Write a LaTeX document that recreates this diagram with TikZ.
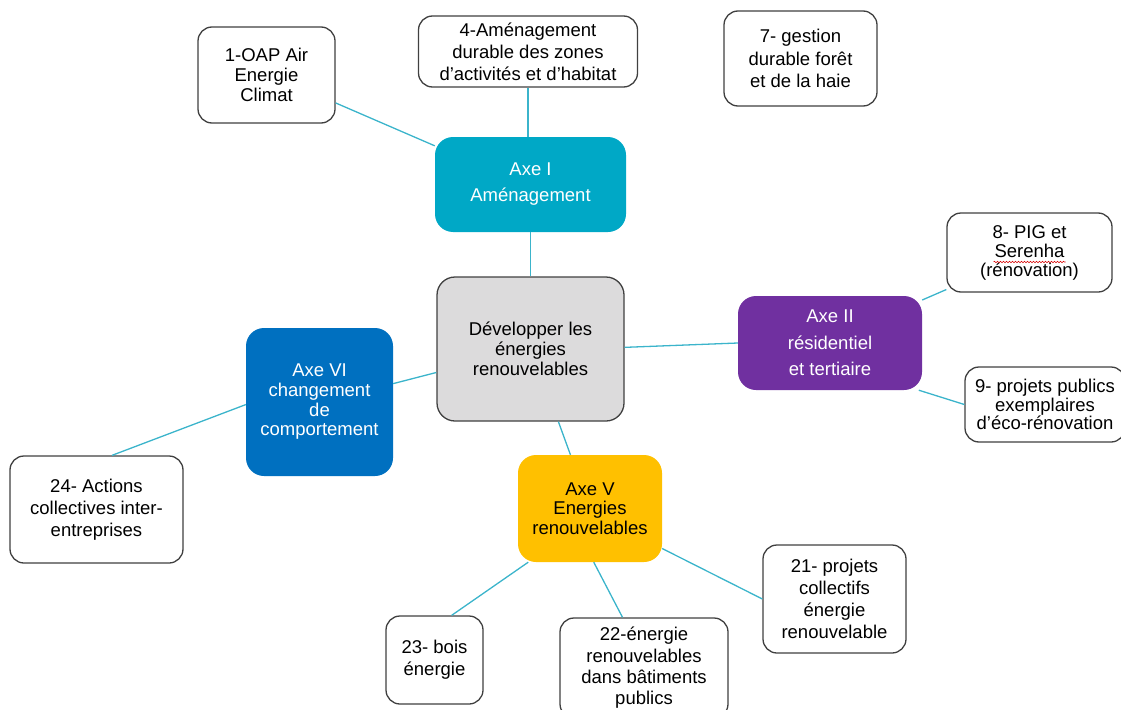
\documentclass[tikz,border=0pt]{standalone}
\usepackage{fontspec}
\setmainfont{Liberation Sans}
\usetikzlibrary{decorations.pathmorphing}
\definecolor{boxline}{HTML}{404040}
\definecolor{linkcol}{HTML}{3BB4CB}
\definecolor{axeone}{HTML}{00A8C6}
\definecolor{axetwo}{HTML}{7030A0}
\definecolor{axesix}{HTML}{0070C0}
\definecolor{axefive}{HTML}{FFC000}
\definecolor{hubgray}{HTML}{DCDBDC}
\begin{document}
\begin{tikzpicture}[x=1pt,y=-1pt,
  lh/.style={font=\fontsize{18.5}{#1}\selectfont},
  box/.style={draw=boxline, line width=1.3pt, rounded corners=14pt, fill=white,
              align=center, inner sep=0pt, text=black},
  axe/.style={rounded corners=18pt, align=center, inner sep=0pt},
  link/.style={draw=linkcol, line width=1.3pt}]
\useasboundingbox (0,0) rectangle (1121,709);

% hub
\node[axe, draw=boxline, line width=1.3pt, fill=hubgray, text=black, lh=20,
      minimum width=187pt, minimum height=144pt] (hub) at (530.5,349)
      {Développer les\\énergies\\renouvelables};

% axes
\node[axe, fill=axeone, text=white, lh=26, minimum width=191pt, minimum height=95pt]
      (axe1) at (530.5,184.5) {Axe I\\Aménagement};
\node[axe, fill=axetwo, text=white, lh=26.5, minimum width=184pt, minimum height=94pt]
      (axe2) at (830,343) {Axe II\\résidentiel\\et tertiaire};
\node[axe, fill=axesix, text=white, lh=19.7, minimum width=147pt, minimum height=148pt]
      (axe6) at (319.5,402) {Axe VI\\changement\\de\\comportement};
\node[axe, fill=axefive, text=black, lh=19.5, minimum width=144pt, minimum height=107pt]
      (axe5) at (590,508.5) {Axe V\\Energies\\renouvelables};

% actions
\node[box, lh=20, minimum width=137pt, minimum height=96pt] (b1) at (266.5,75)
      {1-OAP Air\\Energie\\Climat};
\node[box, lh=22, minimum width=219pt, minimum height=71pt] (b4) at (528,51.5)
      {4-Aménagement\\durable des zones\\d’activités et d’habitat};
\node[box, lh=22.5, minimum width=153pt, minimum height=95pt] (b7) at (800.5,58.5)
      {7- gestion\\durable forêt\\et de la haie};
\node[box, lh=19, minimum width=165pt, minimum height=79pt] (b8) at (1029.5,252.5)
      {8- PIG et\\Serenha\\(rénovation)};
\node[box, lh=18.5, minimum width=160pt, minimum height=75pt] (b9) at (1045,404.5)
      {9- projets publics\\exemplaires\\d’éco-rénovation};
\node[box, lh=22, minimum width=173pt, minimum height=107pt] (b24) at (96.5,509.5)
      {24- Actions\\collectives inter-\\entreprises};
\node[box, lh=22, minimum width=143pt, minimum height=108pt] (b21) at (834.5,599)
      {21- projets\\collectifs\\énergie\\renouvelable};
\node[box, lh=21.3, minimum width=168pt, minimum height=100pt] (b22) at (644,668)
      {22-énergie\\renouvelables\\dans bâtiments\\publics};
\node[box, lh=22, minimum width=97pt, minimum height=88pt] (b23) at (434.5,660)
      {23- bois\\énergie};

% spell-check underline
\draw[red!85!black, line width=0.6pt, decorate,
      decoration={snake, amplitude=0.7pt, segment length=3pt}]
      (b8.center) ++(-36,9.5) -- ++(72,0);

% connectors
\draw[link] (b1.-22) -- (axe1.158);
\draw[link] (b4.south) -- (b4.south |- axe1.north);
\draw[link] (axe1.south) -- (hub.north);
\draw[link] (hub.1) -- (axe2.180);
\draw[link] (axe2.25) -- (b8.204);
\draw[link] (axe2.-28) -- (b9.west);
\draw[link] (hub.194) -- (axe6.14);
\draw[link] (axe6.182) -- (b24.74);
\draw[link] (hub.-69) -- (axe5.110);
\draw[link] (axe5.221) -- (b23.69);
\draw[link] (axe5.-86) -- (b22.113);
\draw[link] (axe5.-29) -- (b21.west);
\end{tikzpicture}
\end{document}
